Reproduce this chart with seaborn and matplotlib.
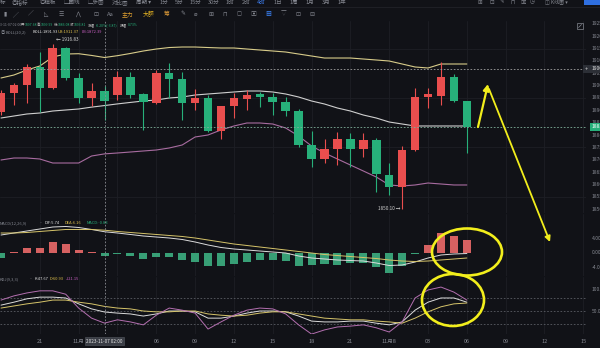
import matplotlib
matplotlib.use("Agg")
import matplotlib.pyplot as plt
from matplotlib.patches import Ellipse, FancyArrowPatch, Rectangle
import numpy as np
import pandas as pd
import seaborn as sns

# 1h candles, 2023-11-06 18:00 .. 2023-11-08 06:00
opens = [1889.33, 1897.01, 1900.25, 1907.53, 1899.03, 1915.21, 1903.08, 1894.99, 1897.68, 1896.20,
         1903.48, 1896.61, 1892.97, 1905.10, 1902.67, 1892.97, 1894.99, 1881.64, 1891.75, 1894.58,
         1896.61, 1895.39, 1893.37, 1889.73, 1875.98, 1870.32, 1874.36, 1878.41, 1874.36, 1878.00,
         1863.85, 1859.00, 1873.96, 1895.39, 1895.80, 1903.48, 1893.78]
highs = [1898.22, 1901.05, 1908.74, 1913.59, 1916.83, 1915.61, 1905.10, 1901.05, 1899.99, 1905.91,
         1905.50, 1897.01, 1906.31, 1909.14, 1905.50, 1898.63, 1896.20, 1891.95, 1897.01, 1898.22,
         1897.42, 1897.01, 1895.39, 1890.54, 1881.64, 1878.41, 1881.24, 1880.83, 1880.83, 1878.81,
         1868.70, 1875.58, 1899.03, 1899.03, 1909.55, 1904.69, 1883.66]
lows = [1888.11, 1892.16, 1892.97, 1889.33, 1898.63, 1902.27, 1892.97, 1891.75, 1886.08, 1894.18,
        1894.99, 1882.05, 1892.56, 1894.99, 1886.09, 1890.14, 1881.24, 1878.41, 1886.90, 1890.14,
        1891.35, 1888.11, 1887.71, 1875.17, 1867.09, 1868.70, 1867.89, 1867.09, 1871.13, 1856.98,
        1855.76, 1850.10, 1873.56, 1890.94, 1892.16, 1893.38, 1872.75]
closes = [1897.01, 1900.25, 1907.53, 1899.03, 1915.21, 1903.08, 1894.99, 1897.68, 1893.81, 1903.48,
          1896.20, 1893.37, 1905.10, 1902.67, 1892.97, 1894.99, 1881.64, 1891.75, 1894.99, 1896.20,
          1895.39, 1893.37, 1889.73, 1875.98, 1870.32, 1874.36, 1878.41, 1874.36, 1878.00, 1864.25,
          1859.00, 1873.96, 1895.39, 1896.61, 1903.48, 1893.78, 1883.26]

boll_ub = [1903.08, 1904.29, 1906.31, 1907.93, 1911.57, 1912.78, 1912.90, 1912.20, 1911.37, 1912.10,
           1913.00, 1914.00, 1914.80, 1915.40, 1915.61, 1915.61, 1915.40, 1915.21, 1915.21, 1914.80,
           1914.40, 1914.00, 1913.59, 1912.78, 1911.97, 1911.16, 1911.16, 1911.16, 1910.76, 1910.36,
           1909.95, 1908.74, 1907.53, 1907.12, 1908.74, 1908.74, 1908.74]
boll_mid = [1886.90, 1887.71, 1888.52, 1888.92, 1889.73, 1890.14, 1890.54, 1891.30, 1891.93, 1892.60,
            1893.20, 1893.78, 1894.18, 1894.99, 1895.39, 1896.20, 1896.61, 1897.01, 1897.42, 1897.82,
            1897.82, 1897.42, 1896.61, 1895.39, 1893.78, 1892.56, 1890.94, 1889.73, 1888.11, 1886.90,
            1885.28, 1884.47, 1883.67, 1883.67, 1883.67, 1883.67, 1883.67]
boll_lb = [1869.92, 1870.72, 1870.72, 1870.32, 1868.70, 1868.70, 1868.70, 1871.53, 1872.39, 1872.75,
           1873.15, 1873.56, 1873.96, 1874.77, 1875.98, 1879.22, 1880.03, 1882.05, 1883.67, 1884.88,
           1884.88, 1884.47, 1882.86, 1879.62, 1875.58, 1872.75, 1870.32, 1867.89, 1865.47, 1863.04,
           1859.81, 1859.40, 1859.81, 1860.61, 1860.21, 1859.81, 1859.81]

macd_dif = [4.86, 5.40, 5.94, 6.48, 7.02, 7.16, 6.89, 6.35, 5.74, 5.40, 5.00, 4.59, 4.32, 4.05, 3.65,
            2.97, 2.16, 1.49, 1.08, 0.81, 0.54, 0.27, 0.00, -0.81, -1.35, -1.62, -1.89, -2.03, -2.16,
            -2.70, -3.38, -3.24, -2.43, -1.35, -0.54, -0.27, -0.14]
macd_dea = [5.40, 5.40, 5.54, 5.81, 6.08, 6.35, 6.35, 6.35, 6.16, 5.81, 5.54, 5.27, 5.00, 4.73, 4.46,
            4.05, 3.51, 2.97, 2.43, 2.03, 1.62, 1.22, 0.81, 0.41, 0.00, -0.41, -0.68, -0.95, -1.22,
            -1.49, -1.89, -2.16, -2.30, -2.16, -1.89, -1.62, -1.35]
macd_hist = [-1.35, 0.27, 1.35, 1.35, 2.97, 2.43, 0.81, 0.27, -0.83, -0.32, -0.81, -1.62, -0.95, -0.95,
             -1.89, -2.43, -3.51, -3.51, -2.97, -2.43, -1.89, -1.89, -2.16, -3.51, -3.24, -2.97, -3.24,
             -2.70, -2.70, -3.78, -5.40, -3.51, -0.14, 2.16, 5.40, 4.59, 3.51]

kdj_k = [64, 71, 79, 83, 83, 81, 67, 55, 47.67, 45, 43, 38, 43, 50, 50, 48, 33, 33, 38, 45, 50, 50, 48,
         38, 26, 24, 24, 26, 26, 21, 17, 24, 52, 71, 81, 81, 71]
kdj_d = [57, 62, 67, 71, 76, 76, 71, 67, 60.93, 57, 55, 50, 48, 48, 50, 50, 43, 40, 38, 40, 45, 48, 48,
         43, 38, 33, 31, 29, 29, 26, 24, 21, 33, 48, 60, 67, 69]
kdj_j = [76, 86, 93, 98, 98, 90, 57, 33, 21.15, 29, 24, 17, 40, 57, 52, 45, 7, 24, 40, 52, 57, 55, 43,
         17, -5, 5, 12, 14, 17, 10, 0, 24, 81, 100, 107, 95, 76]

tick_idx = [3, 6, 12, 15, 18, 21, 24, 27, 30, 33, 36, 39, 42, 45]
tick_txt = ["21", "11月", "06", "09", "12", "15", "18", "21", "11月8", "03", "06", "09", "12", "15"]
cross_idx = 8
cross_label = "2023-11-07 02:00"
cross_price = 1906.72
price_ticks = [1850, 1855, 1860, 1865, 1870, 1875, 1880, 1885, 1890, 1895, 1900, 1905, 1910, 1915, 1920, 1925]
macd_ticks = [4, 0, -4]
kdj_ticks = [100, 50]

# ---- style ----
BG = "#111217"
GRID = "#1d1f25"
RED = "#e94e4e"
GREEN = "#27b07a"
TXT = "#858891"
CROSS = "#8e9096"
YEL = "#f2ee1c"

sns.set_style("dark", {"axes.facecolor": BG, "figure.facecolor": BG, "axes.edgecolor": BG})
plt.rcParams["font.family"] = ["Noto Sans CJK SC", "DejaVu Sans"]
plt.rcParams["axes.unicode_minus"] = False

W, H, W_AX = 600, 348, 586
XMIN, XMAX = -1 / 12.94, 585 / 12.94
hours = list(range(len(opens)))

fig = plt.figure(figsize=(W / 100, H / 100), dpi=100)
fig.patch.set_facecolor(BG)


def panel(top, bottom):
    a = fig.add_axes([0, 1 - bottom / H, W_AX / W, (bottom - top) / H])
    a.set_facecolor(BG)
    for s in a.spines.values():
        s.set_visible(False)
    for i in range(3, 46, 3):
        a.axvline(i, color=GRID, lw=0.6, zorder=0)
    a.axvline(cross_idx, color=CROSS, lw=0.6, ls=(0, (2, 2)), zorder=6)
    return a


def finish(a, ylim):
    a.set_xlim(XMIN, XMAX)
    a.set_ylim(*ylim)
    a.set_xticks([])
    a.set_yticks([])
    a.set_xlabel("")
    a.set_ylabel("")


# ---- main price panel ----
ax = panel(21, 213)
for p in [1855, 1875, 1895, 1915]:
    ax.axhline(p, color=GRID, lw=0.6, zorder=0)

df = pd.DataFrame({"t": hours, "open": opens, "high": highs, "low": lows, "close": closes})
df["color"] = np.where(df["close"] >= df["open"], RED, GREEN)
ax.vlines(df["t"], df["low"], df["high"], colors=df["color"], lw=0.8, zorder=3)
body = (df["close"] - df["open"]).abs().clip(lower=0.4)
ax.bar(df["t"], body, bottom=df[["open", "close"]].min(axis=1), width=0.66,
       color=df["color"], linewidth=0, zorder=4)

sns.lineplot(x=hours, y=boll_ub, ax=ax, color="#d8cc8a", lw=0.8, zorder=2)
sns.lineplot(x=hours, y=boll_mid, ax=ax, color="#cfcfcf", lw=0.8, zorder=2)
sns.lineplot(x=hours, y=boll_lb, ax=ax, color="#a86ca0", lw=0.8, zorder=2)

ax.axhline(cross_price, color="#a0a0a0", lw=0.6, ls=(0, (2, 2)), zorder=6)
ax.axhline(closes[-1], color="#7fb09a", lw=0.6, ls=(0, (2, 2)), zorder=6)

ax.annotate(f"\u2190 {highs[4]:.2f}", xy=(4, highs[4]), xytext=(2, 3), textcoords="offset points",
            fontsize=3.4, color="#d0d0d0", va="center", ha="left")
ax.annotate(f"{lows[31]:.2f} \u2192", xy=(31, lows[31]), xytext=(-1.5, 0), textcoords="offset points",
            fontsize=3.4, color="#d0d0d0", va="center", ha="right")
for p in price_ticks:
    ax.text(592 / W_AX, p, f"{p:.2f}", transform=ax.get_yaxis_transform(), fontsize=3.6,
            color=TXT, va="center", ha="left", clip_on=False)
finish(ax, (1848.48, 1926.13))

# ---- MACD panel ----
ax2 = panel(214, 276)
mdf = pd.DataFrame({"t": hours, "hist": macd_hist})
mdf["side"] = np.where(mdf["hist"] >= 0, "pos", "neg")
sns.barplot(data=mdf, x="t", y="hist", hue="side", palette={"pos": RED, "neg": GREEN},
            native_scale=True, dodge=False, width=0.62, errorbar=None, legend=False,
            linewidth=0, ax=ax2, zorder=3)
sns.lineplot(x=hours, y=macd_dif, ax=ax2, color="#dcdcdc", lw=0.7, zorder=4)
sns.lineplot(x=hours, y=macd_dea, ax=ax2, color="#d6c46a", lw=0.7, zorder=4)
for v in macd_ticks:
    ax2.text(592 / W_AX, v, f"{v:.2f}", transform=ax2.get_yaxis_transform(), fontsize=3.6,
             color=TXT, va="center", ha="left", clip_on=False)
finish(ax2, (-6.21, 10.53))

# ---- KDJ panel ----
ax3 = panel(277, 334)
for lvl in [80, 50, 20]:
    ax3.axhline(lvl, color="#5a5d64", lw=0.6, ls=(0, (2, 2)), zorder=1)
sns.lineplot(x=hours, y=kdj_k, ax=ax3, color="#dcdcdc", lw=0.7, zorder=3)
sns.lineplot(x=hours, y=kdj_d, ax=ax3, color="#d6c46a", lw=0.7, zorder=3)
sns.lineplot(x=hours, y=kdj_j, ax=ax3, color="#b46fb0", lw=0.7, zorder=3)
for v in kdj_ticks:
    ax3.text(592 / W_AX, v, f"{v:.2f}", transform=ax3.get_yaxis_transform(), fontsize=3.6,
             color=TXT, va="center", ha="left", clip_on=False)
for i, s in zip(tick_idx, tick_txt):
    ax3.text(i, -0.123, s, transform=ax3.get_xaxis_transform(), fontsize=4, color=TXT,
             ha="center", va="center", clip_on=False)
ax3.text(cross_idx, -0.123, cross_label, transform=ax3.get_xaxis_transform(), fontsize=3.3,
         color="#e6e6e6", ha="center", va="center", clip_on=False,
         bbox=dict(boxstyle="square,pad=0.3", fc="#3a3d45", ec="#55585f", lw=0.4))
finish(ax3, (-4.76, 130.95))

# ---- overlay: toolbar, legends, hand-drawn marks ----
ov = fig.add_axes([0, 0, 1, 1], zorder=20)
ov.set_xlim(0, W)
ov.set_ylim(H, 0)
ov.axis("off")
ov.patch.set_alpha(0)


def t(x, y, s, c=TXT, size=2.9, **kw):
    ov.text(x, y, s, color=c, fontsize=size, va="center", ha="left", **kw)


menu = [(0, "标"), (12, "◎指标"), (40, "◎模板"), (64, "▢画线"), (88, "▢多图"), (112, "对比图"),
        (136, "周期 ▾"), (160, "1分"), (175, "5分"), (190, "15分"), (208, "30分"), (226, "1时"),
        (242, "2时"), (274, "1日"), (290, "1周"), (306, "1月"), (322, "3月"), (338, "1年")]
for x, s in menu:
    t(x, 2, s, size=4)
t(257, 2, "4时", c="#3d7ef0", size=4)
for x, s in [(478, "⊞"), (490, "⊡"), (500, "✎"), (510, "⊓"), (520, "▣"), (530, "◷")]:
    t(x, 2, s, size=4)
t(545, 2, "◫ K线图 ▾", size=3.6)
ov.add_patch(Rectangle((584, 0), 16, 5, fc="#2f6fe0", ec="none"))
ov.plot([0, W], [7, 7], color="#24262c", lw=0.5)

tools = [(3, "▮"), (13, "╱"), (28, "∕"), (44, "◺"), (59, "☰"), (75, "⋀"), (93, "⊡"), (107, "Aa"),
         (180, "✎"), (194, "⌀"), (208, "⊞"), (222, "⊓"), (236, "◻"), (250, "▣"), (281, "▽"),
         (295, "⊡"), (309, "⊟")]
for x, s in tools:
    t(x, 14, s, size=4.2)
t(122, 14, "主力", c="#e0a030", size=4.2)
t(143, 14, "大额", c="#e6b422", size=4.2)
t(164, 14, "筹", c="#e8a23a", size=4.2)
t(265, 14, "▦", c="#3b82f6", size=4.2)
# expand icon (drawn, no font has it)
ov.add_patch(Rectangle((577, 23), 6, 6, fill=False, ec=TXT, lw=0.5))
ov.plot([578.5, 581.5], [27.5, 24.5], color=TXT, lw=0.5)

t(-6, 25, "2023-11-07 02:00", size=2.5)
for x, lab, val in [(21, "开", "1897.68"), (37, "高", "1899.99"), (54, "低", "1886.08"), (70, "收", "1893.81")]:
    t(x, 25, lab, c="#bdbdbd", size=2.5)
    t(x + 4, 25, val, c=GREEN, size=2.5)
t(88, 25, "涨幅", c="#bdbdbd", size=2.5)
t(96, 25, "-0.20%(-3.87)", c=GREEN, size=2.5)
t(120, 25, "振幅", c="#bdbdbd", size=2.5)
t(128, 25, "0.73%", c=GREEN, size=2.5)

t(1, 32, "◎", size=3.2)
t(6, 32, "BOLL(20,2)")
t(33, 32, "BOLL:1891.93", c="#e0e0e0")
t(58, 32, "UB:1911.37", c="#e2c24a")
t(82, 32, "LB:1872.39", c="#c65fc0")

t(0, 223, "MACD(12,26,9)")
t(38, 223, "•")
t(45, 223, "DIF:5.74", c="#e0e0e0")
t(65, 223, "DEA:6.16", c="#e2c24a")
t(87, 223, "MACD:-0.83", c=GREEN)

t(0, 279, "KDJ(9,3,3)")
t(28, 279, "•")
t(35, 279, "K:47.67", c="#e0e0e0")
t(50, 279, "D:60.93", c="#e2c24a")
t(66, 279, "J:21.15", c="#c65fc0")

ov.add_patch(Rectangle((583, 65), 17, 8, fc="#2c2f36", ec="none"))
t(585, 69, "+", c="#e0e0e0", size=4)
t(592, 69, f"{cross_price:.2f}", c="#e0e0e0", size=3.6)
ov.add_patch(Rectangle((590, 123), 10, 8, fc=GREEN, ec="none"))
t(592, 127, f"{closes[-1]:.2f}", c="white", size=3.6)

ov.add_patch(Ellipse((467, 252), 70, 47, fill=False, ec=YEL, lw=1.9))
ov.add_patch(Ellipse((453, 300), 62, 52, fill=False, ec=YEL, lw=1.9))
ov.add_patch(FancyArrowPatch((478, 127), (488, 84), arrowstyle="-|>", mutation_scale=9,
                             lw=1.6, color=YEL, shrinkA=0, shrinkB=0))
ov.add_patch(FancyArrowPatch((489, 89), (550, 242), arrowstyle="-|>", mutation_scale=8,
                             lw=1.3, color=YEL, shrinkA=0, shrinkB=0))

fig.savefig("out.png", dpi=100, facecolor=BG)
